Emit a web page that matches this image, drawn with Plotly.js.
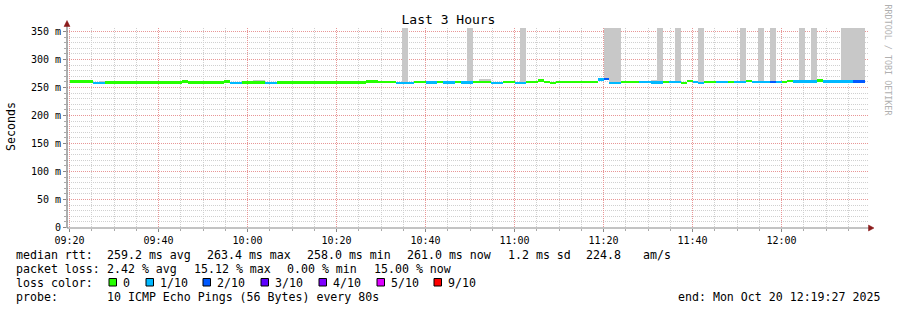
<!DOCTYPE html>
<html>
<head>
<meta charset="utf-8">
<script src="https://cdn.plot.ly/plotly-3.0.1.min.js"></script>
<style>
  html, body { margin: 0; padding: 0; background: #fff; }
  #chart { width: 897px; height: 310px; }
</style>
</head>
<body>
<div id="chart"></div>
<script>
// ---------------- DATA ----------------
// 80 s SmokePing steps, first step starts at 09:20:00 on 2025-10-20
const firstStep = '2025-10-20T09:20:00Z';
const stepSeconds = 80;

// loss per step, in tenths (0 = no loss, 1 = 1/10, 2 = 2/10)
const lossTenths = [
  0,0,0,0,1,1,0,0,0,0,
  0,0,0,0,0,0,0,0,0,0,
  0,0,0,0,0,0,0,1,1,0,
  0,0,0,1,1,0,0,0,0,0,
  0,0,0,0,0,0,0,0,0,0,
  0,0,0,0,0,1,1,1,0,0,
  1,1,0,1,1,0,1,1,0,0,
  0,1,1,0,0,1,1,0,0,0,
  0,0,0,0,0,0,0,0,0,1,
  2,1,1,0,0,0,1,1,1,1,
  0,1,1,0,0,1,1,0,0,1,
  1,0,1,1,0,1,1,1,2,1,
  0,0,1,1,1,1,0,1,1,1,
  1,1,2,2
];

// median rtt per step, ms
const medianMs = [
  260.5,260.5,260.5,260.5,258.5,258.5,259,259,259,259,
  259,259,259,259,259,259,259,259,259,261,
  259,259,259,259,259,259,261,258.5,258.5,259,
  259,259,259,258.5,258.5,259,259,259,259,259,
  259,259,259,259,259,259,259,259,259,259,
  260.5,260.5,259.5,259.5,259.5,258.5,258.5,258.5,259.5,259.5,
  259,259,259.5,259,259,259.5,259,259,259.5,260,
  260,258.5,258.5,259.5,259.5,258.5,258.5,259.5,259.5,262.5,
  260,258.5,259.5,259.5,259.5,259.5,259.5,259.5,259.5,264,
  265,258,258,259.5,259.5,259.5,259.5,259.5,259,259,
  260,259.5,259.5,258.5,262,259.5,258,259.5,259.5,259.5,
  259.5,259.5,259.5,259.5,262,260,260,260,260,260,
  259.5,262,261,261,261,261,262.5,261,261,261,
  261,261,261,261
];

// top of the grey smoke per step, ms (null = no visible smoke, OFF = beyond the top of the scale)
const OFF = 356.25;
const smokeTopMs = [
  null,null,null,null,null,261,261,null,null,null,
  null,null,null,null,262,262,null,null,null,null,
  null,261,null,null,null,null,null,null,null,260.5,
  260.5,263.5,263.5,null,null,null,null,null,null,null,
  null,null,null,null,261,261,261,null,null,null,
  null,null,null,null,null,null,OFF,null,null,null,
  null,null,null,null,null,null,null,OFF,null,266,
  266,null,null,null,null,null,OFF,null,null,null,
  null,null,null,null,null,null,null,null,null,null,
  OFF,OFF,OFF,null,null,null,null,null,263,OFF,
  null,null,OFF,null,null,null,OFF,null,null,null,
  null,null,null,OFF,null,null,OFF,null,OFF,null,
  null,null,null,OFF,null,OFF,null,null,null,null,
  OFF,OFF,OFF,OFF
];

const lossLabels = ['0','1/10','2/10','3/10','4/10','5/10','9/10'];
const lossColors = ['#26ff00','#00b8ff','#0059ff','#5e00ff','#7e00ff','#dd00ff','#ff0000'];

const yTickVals = [0,50,100,150,200,250,300,350];
const yTickText = ['0','50 m','100 m','150 m','200 m','250 m','300 m','350 m'];

const rttStats  = ['259.2 ms avg','263.4 ms max','258.0 ms min','261.0 ms now','1.2 ms sd','224.8','am/s'];
const lossStats = ['2.42 % avg','15.12 % max','0.00 % min','15.00 % now'];
const probeText = '10 ICMP Echo Pings (56 Bytes) every 80s';
const endText   = 'end: Mon Oct 20 12:19:27 2025';

// ---------------- LAYOUT HELPERS ----------------
const L = 67, R = 868, T = 28, B = 228;
const px = v => (v - L) / (R - L);
const py = v => (B - v) / (B - T);
const MONO = 'DejaVu Sans Mono, monospace';
const X_RANGE = ['2025-10-20 09:19:26.3', '2025-10-20 12:19:26.3'];
const Y_RANGE = [-0.893, OFF];
const TICK0 = '2025-10-20 09:20:00';

function stamp(ms) {
  return new Date(ms).toISOString().slice(0, 19).replace('T', ' ');
}
const t0 = Date.parse(firstStep);
const xCenters = medianMs.map((_, i) => stamp(t0 + (i * stepSeconds + stepSeconds / 2) * 1000));
const widthMs = stepSeconds * 1000;

// minor grid positions (every 5 min / every 10 ms), skipping the major ones
const minorX = [];
for (let m = 0; m < 180; m += 5) if (m % 20 !== 0) minorX.push(stamp(t0 + m * 60000));
const minorY = [];
for (let v = 10; v < 356; v += 10) if (v % 50 !== 0) minorY.push(v);

const lossColorFor = n => {
  const map = {0: lossColors[0], 1: lossColors[1], 2: lossColors[2], 3: lossColors[3], 4: lossColors[4], 5: lossColors[5], 9: lossColors[6]};
  return map[n] || lossColors[6];
};

const LINE_MS = 4.4; // thickness of the median line in ms units

// placeholder on the base axes so that they (with the minor grid) are drawn
const base = { type: 'scatter', mode: 'markers', x: [], y: [], xaxis: 'x', yaxis: 'y', hoverinfo: 'skip', showlegend: false };

const smoke = {
  type: 'bar', xaxis: 'x2', yaxis: 'y2',
  x: xCenters,
  base: medianMs,
  y: smokeTopMs.map((v, i) => v === null ? null : v - medianMs[i]),
  width: widthMs,
  marker: { color: '#c8c8c8', line: { width: 0 } },
  hoverinfo: 'skip',
  showlegend: false
};

const median = {
  type: 'bar', xaxis: 'x2', yaxis: 'y2',
  x: xCenters,
  base: medianMs.map(v => v - LINE_MS / 2),
  y: medianMs.map(() => LINE_MS),
  width: widthMs,
  marker: { color: lossTenths.map(lossColorFor), line: { width: 0 } },
  hoverinfo: 'skip',
  showlegend: false
};

// ---------------- TEXT ----------------
const ann = [];
function txt(text, x, y, opts = {}) {
  ann.push(Object.assign({
    text, xref: 'paper', yref: 'paper', x: px(x), y: py(y),
    xanchor: 'left', yanchor: 'middle', showarrow: false,
    font: { family: MONO, size: 11.6, color: '#000' }
  }, opts));
}
const rowY = [254.5, 268.5, 282.5, 296.5];

txt('median rtt:', 14, rowY[0]);
[105, 205, 305, 405, 506, 584, 641].forEach((x, i) => txt(rttStats[i], x, rowY[0]));
txt('packet loss:', 14, rowY[1]);
[105, 192, 285, 372].forEach((x, i) => txt(lossStats[i], x, rowY[1]));
txt('loss color:', 14, rowY[2]);
const boxX = [109, 146, 203, 261, 319, 377, 434];
boxX.forEach((x, i) => txt(lossLabels[i], x + 12, rowY[2]));
txt('probe:', 14, rowY[3]);
txt(probeText, 105, rowY[3]);
txt(endText, 676, rowY[3]);

// y axis title
txt('Seconds', 11, 127, { xanchor: 'center', textangle: -90, font: { family: MONO, size: 11.6, color: '#000' } });
// vertical credit
txt('RRDTOOL / TOBI OETIKER', 887.5, 60, { xanchor: 'center', textangle: 90, font: { family: MONO, size: 8.4, color: '#b0b0b0' } });

// ---------------- SHAPES ----------------
const majorGrid = 'rgb(232,150,150)';
const minorGrid = 'rgb(208,208,208)';
const shapes = [];
boxX.forEach((x, i) => shapes.push({
  type: 'rect', xref: 'paper', yref: 'paper',
  x0: px(x), x1: px(x + 7.5), y0: py(286), y1: py(278.5),
  fillcolor: lossColors[i], line: { color: '#000', width: 1 }
}));
// axis lines extended beyond plot with arrow heads
shapes.push({ type: 'line', xref: 'paper', yref: 'paper', x0: px(67), x1: px(67), y0: py(228), y1: py(24), line: { color: '#777', width: 1.2 } });
shapes.push({ type: 'line', xref: 'paper', yref: 'paper', x0: px(67), x1: px(870), y0: py(228), y1: py(228), line: { color: '#888', width: 1 } });
shapes.push({ type: 'path', xref: 'paper', yref: 'paper',
  path: `M ${px(64)} ${py(26.5)} L ${px(70)} ${py(26.5)} L ${px(67)} ${py(20.5)} Z`,
  fillcolor: '#8b1a1a', line: { color: '#8b1a1a', width: 0.5 } });
shapes.push({ type: 'path', xref: 'paper', yref: 'paper',
  path: `M ${px(868.5)} ${py(225)} L ${px(868.5)} ${py(231)} L ${px(874)} ${py(228)} Z`,
  fillcolor: '#8b1a1a', line: { color: '#8b1a1a', width: 0.5 } });

const layout = {
  width: 897, height: 310,
  margin: { l: L, r: 897 - R, t: T, b: 310 - B, pad: 0 },
  paper_bgcolor: '#fff', plot_bgcolor: 'rgba(0,0,0,0)',
  barmode: 'overlay', bargap: 0,
  showlegend: false,
  title: {
    text: 'Last 3 Hours', xref: 'container', yref: 'container',
    x: 0.5, xanchor: 'center', y: 1 - 19 / 310, yanchor: 'middle',
    font: { family: MONO, size: 13, color: '#000' }
  },
  xaxis: {
    type: 'date', range: X_RANGE,
    tickmode: 'array', tickvals: minorX, showticklabels: false,
    ticks: 'outside', ticklen: 2, tickcolor: '#aaa',
    showgrid: true, gridcolor: minorGrid, griddash: '1px,1px', gridwidth: 1,
    showline: false, zeroline: false, fixedrange: true
  },
  yaxis: {
    range: Y_RANGE,
    tickmode: 'array', tickvals: minorY, showticklabels: false,
    ticks: 'outside', ticklen: 2, tickcolor: '#aaa',
    showgrid: true, gridcolor: minorGrid, griddash: '1px,1px', gridwidth: 1,
    showline: false, zeroline: false, fixedrange: true
  },
  xaxis2: {
    type: 'date', range: X_RANGE, overlaying: 'x', side: 'bottom',
    tick0: TICK0, dtick: 20 * 60 * 1000, tickformat: '%H:%M',
    ticks: 'outside', ticklen: 3, tickcolor: '#888',
    tickfont: { family: MONO, size: 10, color: '#000' },
    showgrid: true, gridcolor: majorGrid, griddash: '1px,1px', gridwidth: 1,
    showline: false, zeroline: false, fixedrange: true
  },
  yaxis2: {
    range: Y_RANGE, overlaying: 'y', side: 'left',
    tickmode: 'array', tickvals: yTickVals, ticktext: yTickText,
    ticks: 'outside', ticklen: 3, tickcolor: '#888',
    tickfont: { family: MONO, size: 10, color: '#000' },
    showgrid: true, gridcolor: majorGrid, griddash: '1px,1px', gridwidth: 1,
    showline: false, zeroline: false, fixedrange: true
  },
  annotations: ann,
  shapes: shapes
};

Plotly.newPlot('chart', [base, smoke, median], layout, { staticPlot: true, displayModeBar: false });
</script>
</body>
</html>
